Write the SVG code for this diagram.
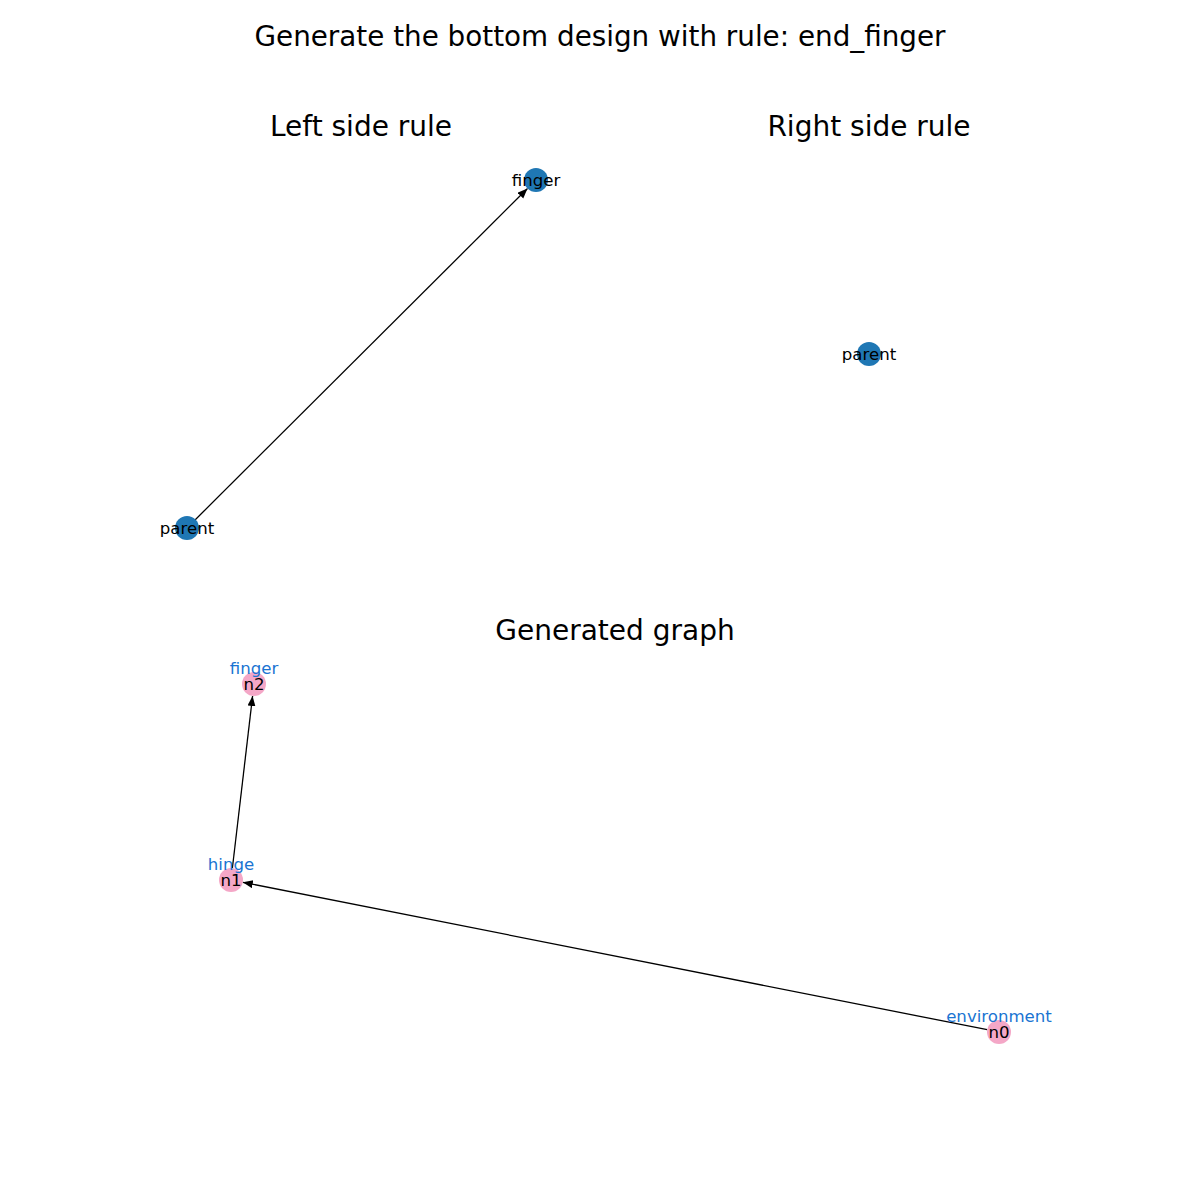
<svg xmlns="http://www.w3.org/2000/svg" width="1200" height="1200" viewBox="0 0 1200 1200">
<style>
text{font-family:"DejaVu Sans","Liberation Sans",sans-serif;text-anchor:middle}
.title{font-size:27.8px;fill:#000}
.sub{font-size:28px;fill:#000}
.lbl{font-size:16.6px;fill:#000}
.tag{font-size:16.6px;fill:#1a74d2}
.blue{fill:#1f77b4}
.pink{fill:#f4a7c7}
.edge{stroke:#000;stroke-width:1.3;fill:none}
</style>
<defs>
<marker id="ah" markerUnits="userSpaceOnUse" markerWidth="12" markerHeight="10" refX="10" refY="4" orient="auto">
<path d="M0,0 L10,4 L0,8 Z" fill="#000"/>
</marker>
</defs>
<rect width="1200" height="1200" fill="#fff"/>
<text class="title" x="600" y="46">Generate the bottom design with rule: end_finger</text>
<text class="sub" x="361" y="136">Left side rule</text>
<text class="sub" x="869" y="136">Right side rule</text>
<text class="sub" x="615" y="640">Generated graph</text>
<g id="connectors">
<line class="edge" x1="195" y1="520" x2="527.5" y2="188.5" marker-end="url(#ah)"/>
<line class="edge" x1="232.4" y1="868" x2="252.6" y2="696" marker-end="url(#ah)"/>
<line class="edge" x1="987.2" y1="1029.7" x2="242.8" y2="882.3" marker-end="url(#ah)"/>
</g>
<g id="left-finger"><circle class="blue" cx="536" cy="180" r="12"/><text class="lbl" x="536" y="186">finger</text></g>
<g id="left-parent"><circle class="blue" cx="187" cy="528" r="12"/><text class="lbl" x="187" y="534">parent</text></g>
<g id="right-parent"><circle class="blue" cx="869" cy="354" r="12"/><text class="lbl" x="869" y="360">parent</text></g>
<g id="n2"><circle class="pink" cx="254" cy="684" r="12"/><text class="lbl" x="254" y="690">n2</text><text class="tag" x="254" y="674">finger</text></g>
<g id="n1"><circle class="pink" cx="231" cy="880" r="12"/><text class="lbl" x="231" y="886">n1</text><text class="tag" x="231" y="870">hinge</text></g>
<g id="n0"><circle class="pink" cx="999" cy="1032" r="12"/><text class="lbl" x="999" y="1038">n0</text><text class="tag" x="999" y="1022">environment</text></g>
</svg>
